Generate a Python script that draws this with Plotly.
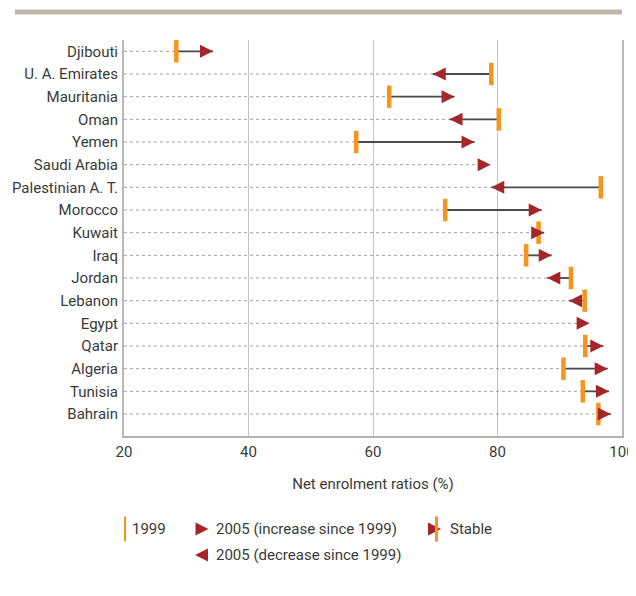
import plotly.graph_objects as go

countries = ["Djibouti", "U. A. Emirates", "Mauritania", "Oman", "Yemen", "Saudi Arabia",
             "Palestinian A. T.", "Morocco", "Kuwait", "Iraq", "Jordan", "Lebanon", "Egypt",
             "Qatar", "Algeria", "Tunisia", "Bahrain"]
ner_1999 = [28.4, 79.0, 62.6, 80.2, 57.3, None, 96.6, 71.6, 86.6, 84.6, 91.8, 94.0, None,
            94.1, 90.6, 93.7, 96.2]
ner_2005 = [34.3, 69.6, 73.1, 72.3, 76.3, 78.9, 79.0, 87.1, 87.5, 88.7, 88.0, 91.5, 94.8,
            97.0, 97.7, 97.9, 98.2]
x_ticks = [20, 40, 60, 80, 100]

FONT = "Roboto, sans-serif"
FS = 15
TXT = "#3a3a3a"
ORANGE = "#f7941d"
RED = "#a4262a"
AX_MIN = 20

fig = go.Figure()

# dotted row guides
dx, dy = [], []
for c, a, b in zip(countries, ner_1999, ner_2005):
    end = min(v for v in (a, b) if v is not None)
    dx += [AX_MIN, end, None]
    dy += [c, c, None]
fig.add_trace(go.Scatter(x=dx, y=dy, mode="lines", hoverinfo="skip",
                         line=dict(color="#a0a0a0", width=1, dash="dot"), showlegend=False))

# connecting lines 1999 -> 2005
cx, cy = [], []
for c, a, b in zip(countries, ner_1999, ner_2005):
    if a is not None:
        cx += [a, b, None]
        cy += [c, c, None]
fig.add_trace(go.Scatter(x=cx, y=cy, mode="lines", hoverinfo="skip",
                         line=dict(color="#4a4a4a", width=1.8), showlegend=False))

# 1999 bars
bx = [a for a in ner_1999 if a is not None]
by = [c for c, a in zip(countries, ner_1999) if a is not None]
fig.add_trace(go.Scatter(x=bx, y=by, mode="markers", name="1999", showlegend=False,
                         marker=dict(symbol="line-ns", size=16,
                                     line=dict(color=ORANGE, width=4.5))))

# 2005 arrows
ix, iy, dx2, dy2 = [], [], [], []
for c, a, b in zip(countries, ner_1999, ner_2005):
    if a is None or b >= a:
        ix.append(b); iy.append(c)
    else:
        dx2.append(b); dy2.append(c)
fig.add_trace(go.Scatter(x=ix, y=iy, mode="markers", name="2005 (increase since 1999)",
                         showlegend=False,
                         marker=dict(symbol="arrow-right", size=13, color=RED,
                                     line=dict(width=0))))
fig.add_trace(go.Scatter(x=dx2, y=dy2, mode="markers", name="2005 (decrease since 1999)",
                         showlegend=False,
                         marker=dict(symbol="arrow-left", size=13, color=RED,
                                     line=dict(width=0))))

# ---- custom legend on hidden pixel axes (coordinates = page pixels) ----
fig.add_trace(go.Scatter(x=[124], y=[529], xaxis="x2", yaxis="y2", mode="markers",
                         showlegend=False, hoverinfo="skip",
                         marker=dict(symbol="line-ns", size=18,
                                     line=dict(color=ORANGE, width=4))))
fig.add_trace(go.Scatter(x=[208.5, 441], y=[529, 529], xaxis="x2", yaxis="y2", mode="markers",
                         showlegend=False, hoverinfo="skip",
                         marker=dict(symbol="arrow-right", size=13, color=RED, line=dict(width=0))))
fig.add_trace(go.Scatter(x=[436.5], y=[529], xaxis="x2", yaxis="y2", mode="markers",
                         showlegend=False, hoverinfo="skip",
                         marker=dict(symbol="line-ns", size=18,
                                     line=dict(color=ORANGE, width=3))))
fig.add_trace(go.Scatter(x=[195], y=[555], xaxis="x2", yaxis="y2", mode="markers",
                         showlegend=False, hoverinfo="skip",
                         marker=dict(symbol="arrow-left", size=13, color=RED, line=dict(width=0))))

legend_text = [(132, 529, "1999"), (215.5, 529, "2005 (increase since 1999)"),
               (450, 529, "Stable"), (215.5, 555, "2005 (decrease since 1999)")]
annotations = [dict(x=x, y=y, xref="x2", yref="y2", text=t, showarrow=False,
                    xanchor="left", yanchor="middle", xshift=-2,
                    font=dict(family=FONT, size=FS, color=TXT))
               for x, y, t in legend_text]

# page has an 8px body margin: figure is offset by 8px, sized to avoid scrollbars
# paper spans page y 40..568 (528 px)
fig.update_layout(
    width=628, height=560,
    margin=dict(l=116, r=14, t=32, b=0, autoexpand=False),
    plot_bgcolor="white", paper_bgcolor="white",
    font=dict(family=FONT, size=FS, color=TXT),
    annotations=annotations,
    xaxis=dict(range=[20, 100], tickvals=x_ticks, showgrid=True, gridcolor="#c4c4c4",
               gridwidth=1, showline=True, linecolor="#b3b3b3", linewidth=2,
               zeroline=False, ticks="", ticklabelstandoff=1, automargin=False,
               title=dict(text="Net enrolment ratios (%)", standoff=18,
                          font=dict(family=FONT, size=FS, color=TXT)),
               anchor="y", fixedrange=True),
    yaxis=dict(type="category", categoryorder="array", categoryarray=countries,
               range=[16.97, -0.5], domain=[0.25, 1], showgrid=False,
               showline=True, mirror=True, linecolor="#b8b8b8", linewidth=2,
               ticks="", ticklabelstandoff=1, zeroline=False, fixedrange=True,
               automargin=False),
    xaxis2=dict(domain=[0, 1], range=[124, 622], visible=False, anchor="y2",
                fixedrange=True, automargin=False),
    yaxis2=dict(domain=[0, 0.2], range=[568, 462.4], visible=False, anchor="x2",
                fixedrange=True, automargin=False),
    shapes=[dict(type="rect", xref="paper", yref="paper", x0=-0.2189, x1=1.0,
                 y0=1.0483, y1=1.0578, fillcolor="#bdb5aa", line=dict(width=0),
                 layer="above")],
)

fig.write_html("out.html")
